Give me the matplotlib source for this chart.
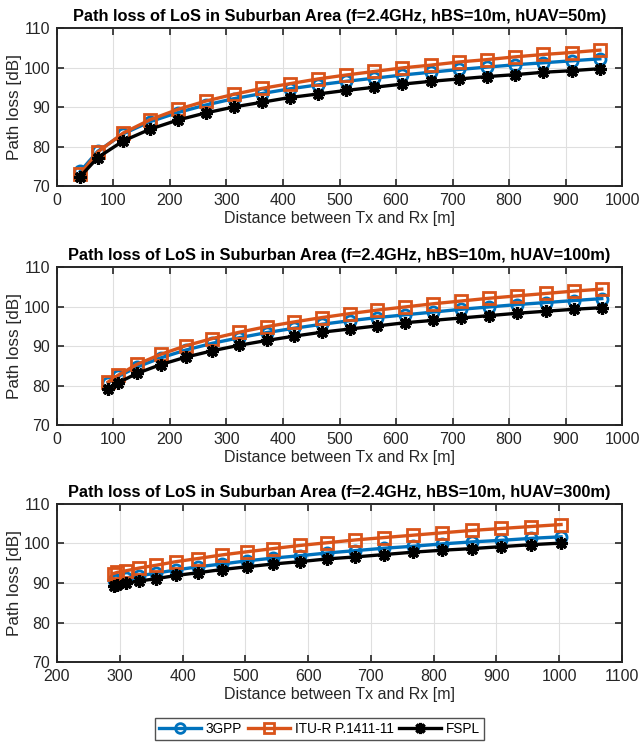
import matplotlib.pyplot as plt
from matplotlib.lines import Line2D

plt.rcParams["font.family"] = ["Liberation Sans", "DejaVu Sans"]

# distances (3D) for each UAV height
dist_50 = [41.2, 72.1, 117.0, 164.9, 213.8, 263.1, 312.6, 362.2, 411.9, 461.7,
           511.6, 561.4, 611.3, 661.2, 711.1, 761.1, 811.0, 860.9, 910.9, 960.8]
dist_100 = [90.6, 108.2, 142.1, 183.6, 228.5, 275.1, 322.8, 371.1, 419.8, 468.7,
            517.9, 567.2, 616.6, 666.1, 715.7, 765.3, 815.0, 864.7, 914.4, 964.2]
dist_300 = [290.2, 296.1, 310.2, 331.2, 358.1, 389.5, 424.5, 462.3, 502.2, 543.8,
            586.7, 630.6, 675.4, 720.9, 767.0, 813.5, 860.4, 907.6, 955.1, 1002.9]

gpp_50 = [73.7, 78.8, 83.2, 86.3, 88.6, 90.5, 92.1, 93.4, 94.6, 95.6,
          96.5, 97.3, 98.1, 98.8, 99.5, 100.1, 100.7, 101.2, 101.7, 102.2]
itu_50 = [73.0, 78.6, 83.4, 86.8, 89.4, 91.5, 93.2, 94.7, 95.9, 97.1,
          98.1, 99.0, 99.9, 100.6, 101.4, 102.0, 102.7, 103.3, 103.8, 104.4]
fspl_50 = [72.4, 77.2, 81.4, 84.4, 86.7, 88.5, 90.0, 91.2, 92.4, 93.3,
           94.2, 95.0, 95.8, 96.5, 97.1, 97.7, 98.2, 98.8, 99.2, 99.7]

gpp_100 = [80.7, 82.3, 84.7, 87.0, 89.0, 90.7, 92.1, 93.4, 94.5, 95.5,
           96.4, 97.2, 97.9, 98.6, 99.3, 99.9, 100.5, 101.0, 101.5, 102.0]
itu_100 = [80.9, 82.6, 85.4, 87.9, 90.1, 91.9, 93.5, 94.9, 96.1, 97.2,
           98.2, 99.1, 99.9, 100.7, 101.4, 102.1, 102.7, 103.3, 103.9, 104.4]
fspl_100 = [79.2, 80.7, 83.1, 85.3, 87.2, 88.8, 90.2, 91.4, 92.5, 93.5,
            94.3, 95.1, 95.9, 96.5, 97.1, 97.7, 98.3, 98.8, 99.3, 99.7]

gpp_300 = [90.7, 90.8, 91.3, 91.8, 92.5, 93.3, 94.1, 94.8, 95.6, 96.3,
           96.9, 97.6, 98.2, 98.8, 99.3, 99.9, 100.4, 100.8, 101.3, 101.7]
itu_300 = [92.4, 92.7, 93.1, 93.8, 94.5, 95.4, 96.2, 97.1, 97.9, 98.7,
           99.5, 100.2, 100.9, 101.5, 102.1, 102.7, 103.3, 103.8, 104.3, 104.8]
fspl_300 = [89.3, 89.5, 89.9, 90.5, 91.1, 91.9, 92.6, 93.4, 94.1, 94.8,
            95.4, 96.1, 96.6, 97.2, 97.8, 98.3, 98.7, 99.2, 99.7, 100.1]

heights = [50, 100, 300]
x_ranges = [(0, 1000), (0, 1000), (200, 1100)]

BLUE = "#0072BD"
ORANGE = "#D95319"
TEXT = "#262626"

ASTERISK = (8, 2, 0)


def draw_panel(ax, dist, gpp, itu, fspl, height, xr):
    ax.plot(dist, gpp, color=BLUE, linewidth=2.4, marker="o",
            markersize=8, markerfacecolor="none", markeredgewidth=2.0)
    ax.plot(dist, itu, color=ORANGE, linewidth=2.4, marker="s",
            markersize=8, markerfacecolor="none", markeredgewidth=2.0)
    ax.plot(dist, fspl, color="black", linewidth=2.4, marker=ASTERISK,
            markersize=9, markeredgewidth=2.3)

    ax.set_xlim(*xr)
    ax.set_ylim(70, 110)
    ax.set_xticks(range(xr[0], xr[1] + 1, 100))
    ax.set_yticks(range(70, 111, 10))
    ax.grid(True, color="#DFDFDF", linewidth=0.8)
    ax.set_axisbelow(True)
    ax.tick_params(direction="in", top=True, right=True, length=5,
                   width=1.2, labelsize=11.5, colors=TEXT)
    ax.tick_params(axis="y", pad=5)
    ax.tick_params(axis="x", pad=5)
    for s in ax.spines.values():
        s.set_color(TEXT)
        s.set_linewidth(1.4)

    ax.set_title(
        f"Path loss of LoS in Suburban Area (f=2.4GHz, hBS=10m, hUAV={height}m)",
        fontsize=11.8, fontweight="bold", pad=5
    )
    ax.set_xlabel("Distance between Tx and Rx [m]", fontsize=11.5,
                  color=TEXT, labelpad=2)
    ax.set_ylabel("Path loss [dB]", fontsize=12.3, color=TEXT, labelpad=1)


def main():
    fig = plt.figure(figsize=(6.39, 7.45), dpi=100)

    bottoms = [0.7503, 0.4295, 0.1114]
    data = [
        (dist_50, gpp_50, itu_50, fspl_50),
        (dist_100, gpp_100, itu_100, fspl_100),
        (dist_300, gpp_300, itu_300, fspl_300),
    ]

    for b, d, h, xr in zip(bottoms, data, heights, x_ranges):
        ax = fig.add_axes([0.0892, b, 0.8842, 0.2121])
        draw_panel(ax, *d, h, xr)

    handles = [
        Line2D([], [], color=BLUE, linewidth=2.4, marker="o", markersize=7,
               markerfacecolor="none", markeredgewidth=2.0),
        Line2D([], [], color=ORANGE, linewidth=2.4, marker="s", markersize=7,
               markerfacecolor="none", markeredgewidth=2.0),
        Line2D([], [], color="black", linewidth=2.4, marker=ASTERISK,
               markersize=8, markeredgewidth=2.3),
    ]
    leg = fig.legend(
        handles, ["3GPP", "ITU-R P.1411-11", "FSPL"],
        loc="lower center", bbox_to_anchor=(0.5, 0.003), ncol=3,
        frameon=True, fancybox=False, fontsize=9.8, handlelength=3.1,
        columnspacing=0.4, handletextpad=0.35, borderpad=0.3,
        borderaxespad=0.2
    )
    leg.get_frame().set_edgecolor(TEXT)
    leg.get_frame().set_linewidth(1.0)

    fig.savefig("out.png", dpi=100)
    plt.close(fig)


if __name__ == "__main__":
    main()
